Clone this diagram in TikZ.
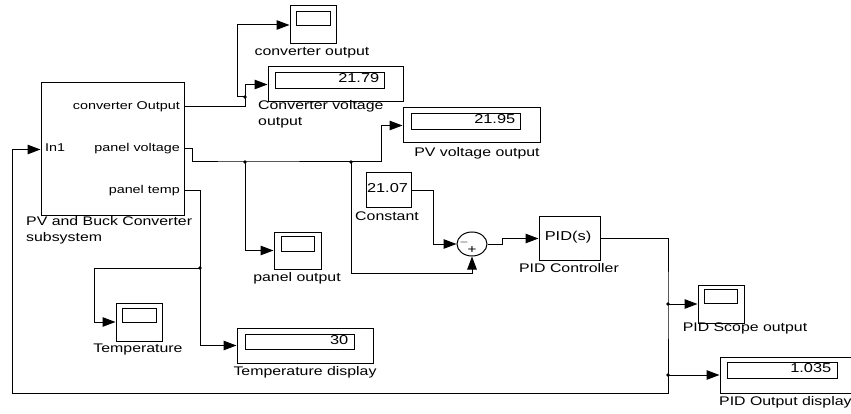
\documentclass[tikz,border=0pt]{standalone}
\usepackage{fontspec}
\setmainfont{Liberation Sans}[FakeStretch=1.27]
\usetikzlibrary{arrows.meta,shapes.geometric,calc}
\begin{document}
\begin{tikzpicture}[x=1pt,y=-1pt,
  blk/.style={draw,line width=1pt,inner sep=0,fill=white},
  inbox/.style={draw,line width=0.9pt,inner sep=0},
  lbl/.style={font=\fontsize{12.5}{16}\selectfont,inner sep=0},
  port/.style={font=\fontsize{11.3}{13}\selectfont,inner sep=0},
  val/.style={font=\fontsize{12.9}{14}\selectfont,inner sep=0},
  sgn/.style={font=\fontsize{12}{12}\selectfont,inner sep=0},
  wire/.style={line width=1pt},
  arr/.style={wire,-{Triangle[length=13pt,width=9.5pt]}},
  jdot/.style={circle,fill,inner sep=0,minimum size=3.8pt}]
\useasboundingbox (0,0) rectangle (851,414);
\clip (0,0) rectangle (851,414);
% blocks
\node[blk,minimum width=143,minimum height=133] (sub) at (112.5,149.5) {};
\node[blk,minimum width=46,minimum height=38] (cos) at (313,25) {};
\node[inbox,minimum width=34,minimum height=14] (cosi) at (313,18) {};
\node[blk,minimum width=135,minimum height=35] (cvd) at (335.5,84.5) {};
\node[inbox,minimum width=109,minimum height=16] (cvdi) at (329.5,80) {};
\node[blk,minimum width=137,minimum height=35] (pvd) at (471.5,125.5) {};
\node[inbox,minimum width=109,minimum height=16] (pvdi) at (465.5,121) {};
\node[blk,minimum width=47,minimum height=37] (pos) at (297.5,250.5) {};
\node[inbox,minimum width=33,minimum height=15] (posi) at (297.5,243.5) {};
\node[blk,minimum width=45,minimum height=35] (const) at (388.5,190.5) {};
\node[blk,ellipse,minimum width=30,minimum height=24] (sum) at (472,244) {};
\node[blk,minimum width=61,minimum height=43] (pid) at (569.5,238.5) {};
\node[blk,minimum width=46,minimum height=38] (psc) at (721,304) {};
\node[inbox,minimum width=33,minimum height=14] (psci) at (720.5,296) {};
\node[blk,minimum width=150,minimum height=36] (pdd) at (795,375) {};
\node[inbox,minimum width=110,minimum height=16] (pddi) at (782,370) {};
\node[blk,minimum width=46,minimum height=38] (tsc) at (139,322) {};
\node[inbox,minimum width=34,minimum height=14] (tsci) at (139,315) {};
\node[blk,minimum width=136,minimum height=35] (tdd) at (305,345.5) {};
\node[inbox,minimum width=109,minimum height=15] (tddi) at (299.5,341.5) {};
% texts inside blocks
\node[port,anchor=mid east] (p1) at (180,107) {converter Output};
\node[port,anchor=mid east] (p2) at (180,149) {panel voltage};
\node[port,anchor=mid east] (p3) at (180,191) {panel temp};
\node[port,anchor=mid west] (p0) at (45,149) {In1};
\node[val,anchor=mid east] (v1) at ($(cvdi.east)+(-5,0)$) {21.79};
\node[val,anchor=mid east] (v2) at ($(pvdi.east)+(-5,0)$) {21.95};
\node[val,anchor=mid east] (v3) at ($(tddi.east)+(-6,0)$) {30};
\node[val,anchor=mid east] (v4) at ($(pddi.east)+(-6,0)$) {1.035};
\node[val,anchor=mid] (v5) at (387.5,190) {21.07};
\node[val,anchor=mid] (v6) at (568,238) {PID(s)};
\node[sgn,anchor=mid] (s1) at (464,243) {$-$};
\node[sgn,anchor=mid] (s2) at (472,251) {+};
% block labels
\node[lbl,anchor=north west,align=left] (l1) at (26,216.5) {PV and Buck Converter\\subsystem};
\node[lbl,anchor=mid] (l2) at (312,53) {converter output};
\node[lbl,anchor=north west,align=left] (l3) at (258,100.5) {Converter voltage\\output};
\node[lbl,anchor=mid] (l4) at (477,154) {PV voltage output};
\node[lbl,anchor=mid] (l5) at (387,218) {Constant};
\node[lbl,anchor=mid] (l6) at (569,270) {PID Controller};
\node[lbl,anchor=mid] (l7) at (297,279) {panel output};
\node[lbl,anchor=mid] (l8) at (138,350) {Temperature};
\node[lbl,anchor=mid] (l9) at (305,373) {Temperature display};
\node[lbl,anchor=mid] (l10) at (745,329) {PID Scope output};
\node[lbl,anchor=mid west] (l11) at (719,403) {PID Output display};
% junctions and ports
\coordinate (subO1) at (184,107);
\coordinate (subO2) at (184,149);
\coordinate (subO3) at (184,191);
\coordinate (j1) at (245,97);
\coordinate (j2) at (245,162);
\coordinate (j3) at (351,162);
\coordinate (j4) at (668,304);
\coordinate (j5) at (668,375);
\coordinate (j6) at (200,268);
\coordinate (fb) at (12,393);
% wires
\draw[wire] (subO1) -| (j1);
\draw[arr] (j1) |- (cvd.west);
\draw[arr] (j1) -- ++(-8,0) |- (cos.west);
\draw[wire] (subO2) -- ++(8,0) |- (j2) -- (j3);
\draw[arr] (j3) -- ++(30,0) |- (pvd.west);
\draw[arr] (j2) |- (pos.west);
\draw[arr] (j3) -- ++(0,111) -| (sum.south);
\draw[arr] (const.east) -- ++(22,0) |- (sum.west);
\draw[arr] (sum.east) -- ++(15,0) |- (pid.west);
\draw[wire] (pid.east) -| (j4) -- (j5);
\draw[arr] (j4) -- (psc.west);
\draw[arr] (j5) -- (pdd.west);
\draw[arr] (j5) |- (fb) |- (sub.west);
\draw[arr] (subO3) -- ++(16,0) |- (tdd.west);
\draw[arr] (j6) -- ++(-106,0) |- (tsc.west);
\foreach \j in {j1,j2,j3,j4,j5,j6} \node[jdot] at (\j) {};
\end{tikzpicture}
\end{document}
